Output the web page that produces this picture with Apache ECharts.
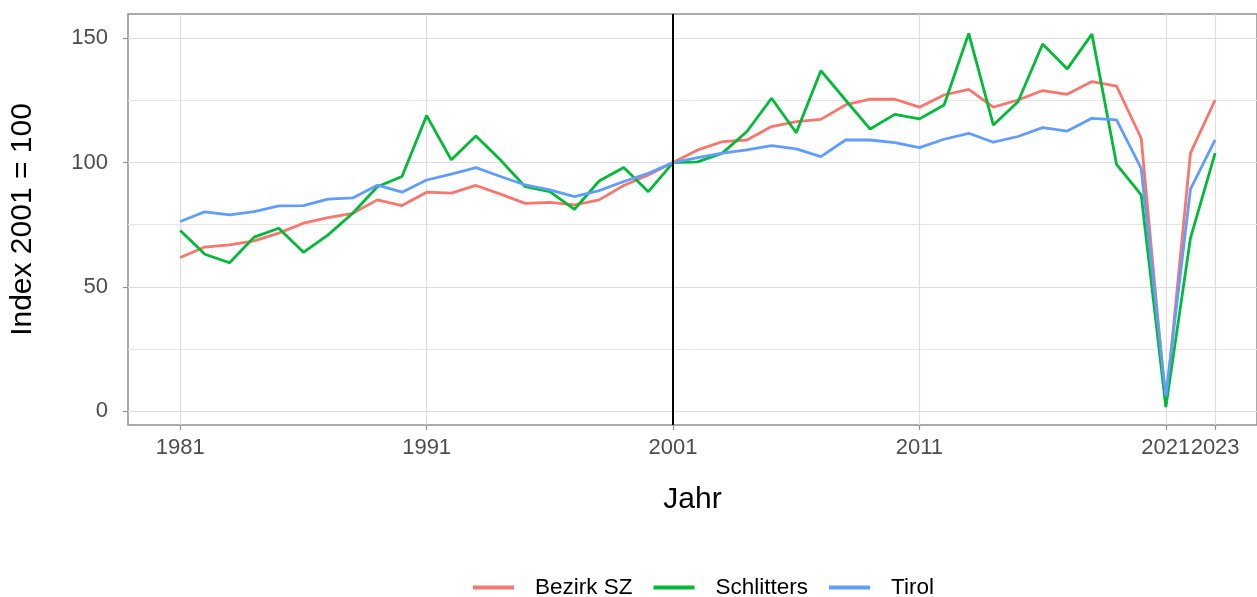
<!DOCTYPE html>
<html>
<head>
<meta charset="utf-8">
<script src="https://cdn.jsdelivr.net/npm/echarts@6/dist/echarts.min.js"></script>
<style>
html,body{margin:0;padding:0;background:#fff;}
#chart{width:1257px;height:597px;}
</style>
</head>
<body>
<div id="chart"></div>
<script>
const years = [1981,1982,1983,1984,1985,1986,1987,1988,1989,1990,1991,1992,1993,1994,1995,1996,1997,1998,1999,2000,2001,2002,2003,2004,2005,2006,2007,2008,2009,2010,2011,2012,2013,2014,2015,2016,2017,2018,2019,2020,2021,2022,2023];
const bezirkSZ = [61.8,66,66.9,68.5,71.6,75.6,77.9,79.6,85,82.7,88.1,87.7,90.8,87.3,83.6,84,83,85,90.8,95,100,105.1,108.4,109.1,114.5,116.5,117.4,123.2,125.5,125.5,122.3,127.2,129.5,122.3,125.2,129,127.5,132.6,130.8,109.8,2.5,103.8,125.2];
const schlitters = [72.7,63.1,59.7,70,73.6,63.9,70.9,79.6,90.3,94.4,118.9,101.1,110.7,101,90.3,88.3,81.2,92.6,98,88.3,100,100.3,103.8,112.5,125.9,112,137,125.2,113.5,119.4,117.6,123.2,152,115.1,124.5,147.7,137.7,151.7,99.3,87,1.6,69.6,103.8];
const tirol = [76.3,80.2,79,80.3,82.6,82.7,85.3,85.8,90.9,88.1,93,95.4,98,94.4,91,89,86.3,88.7,92.4,95.7,100,102,103.8,105.1,106.8,105.5,102.4,109.1,109.1,108,106,109.4,111.8,108.2,110.5,114.1,112.7,117.8,117.2,97.7,5.9,89.3,109.1];
const seriesNames = ['Bezirk SZ','Schlitters','Tirol'];
const xTicks = [1981,1991,2001,2011,2021,2023];
const yTicks = [0,50,100,150];
const yMinorTicks = [25,75,125];
const refYear = 2001;

const colors = ['#F8766D','#00BA38','#619CFF'];
const pairs = arr => years.map((y,i)=>[y,arr[i]]);
const FONT = '"Liberation Sans", Arial, sans-serif';

const chart = echarts.init(document.getElementById('chart'), null, {renderer:'canvas'});
const yMin = -5.6, yMax = 159.8;
const option = {
  animation:false,
  backgroundColor:'#fff',
  grid:{left:126, top:14, right:0, height:411, show:true, borderColor:'#8f8f8f', borderWidth:1.5, backgroundColor:'transparent', containLabel:false},
  xAxis:{
    type:'value', min:1978.88, max:2024.70,
    name:'Jahr', nameLocation:'middle', nameGap:60,
    nameTextStyle:{fontFamily:FONT, fontSize:30, color:'#000'},
    axisLine:{show:false, onZero:false},
    axisTick:{show:true, customValues:xTicks, length:5, lineStyle:{color:'#8f8f8f', width:1.2}},
    axisLabel:{customValues:xTicks, formatter:v=>String(v), fontFamily:FONT, fontSize:22, color:'#4D4D4D', margin:12},
    splitLine:{show:true, lineStyle:{color:'#DEDEDE', width:1.2}}
  },
  yAxis:[{
    type:'value', min:yMin, max:yMax, position:'left',
    name:'Index 2001 = 100', nameLocation:'middle', nameGap:90, nameRotate:90,
    nameTextStyle:{fontFamily:FONT, fontSize:30, color:'#000'},
    axisLine:{show:false, onZero:false},
    axisTick:{show:true, customValues:yTicks, length:5, lineStyle:{color:'#8f8f8f', width:1.2}},
    axisLabel:{customValues:yTicks, fontFamily:FONT, fontSize:22, color:'#4D4D4D', margin:20},
    splitLine:{show:true, lineStyle:{color:'#DEDEDE', width:1.2}}
  },{
    type:'value', min:yMin, max:yMax, position:'left',
    axisLine:{show:false, onZero:false},
    axisTick:{show:false, customValues:yMinorTicks},
    axisLabel:{show:false, customValues:yMinorTicks},
    splitLine:{show:true, lineStyle:{color:'#E6E6E6', width:1}}
  }],
  legend:{
    data:seriesNames, left:473, top:576, padding:0, icon:'rect', itemWidth:41, itemHeight:4, itemGap:21,
    textStyle:{fontFamily:FONT, fontSize:22.5, color:'#000', padding:[0,0,0,16]}
  },
  series:[bezirkSZ, schlitters, tirol].map((arr,i)=>({
    name:seriesNames[i], type:'line', data:pairs(arr), showSymbol:false, symbol:'none',
    lineStyle:{width:2.8, color:colors[i]}, itemStyle:{color:colors[i]}, z:2+i,
    markLine: i===2 ? {silent:true, symbol:'none', label:{show:false}, z:10,
      lineStyle:{color:'#000', width:2, type:'solid'}, data:[{xAxis:refYear}]} : undefined
  }))
};
chart.setOption(option);
</script>
</body>
</html>
